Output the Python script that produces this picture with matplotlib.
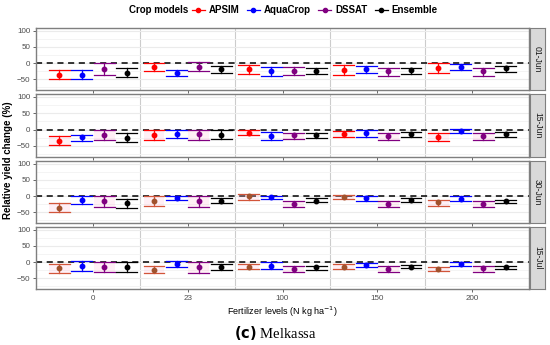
import numpy as np
import matplotlib.pyplot as plt
from matplotlib.lines import Line2D
from matplotlib.patches import Rectangle

plt.rcParams['font.family'] = ['Liberation Sans', 'DejaVu Sans']

dates = ['01-Jun', '15-Jun', '30-Jun', '15-Jul']
fert_levels = ['0', '23', '100', '150', '200']
models = ['APSIM', 'AquaCrop', 'DSSAT', 'Ensemble']

# mean / upper / lower, indexed [date][fertilizer][model]
mean = [
    [[-36, -36, -19, -30], [-13, -31, -12, -19], [-19, -25, -24, -24], [-21, -18, -25, -23], [-15, -12, -25, -17]],
    [[-35, -24, -18, -26], [-18, -15, -15, -16], [-9, -20, -18, -17], [-14, -12, -19, -15], [-22, -4, -19, -15]],
    [[-38, -12, -17, -23], [-17, -5, -17, -15], [-1, -4, -24, -14], [-4, -6, -24, -13], [-20, -8, -24, -17]],
    [[-19, -13, -15, -15], [-24, -5, -17, -15], [-15, -13, -21, -17], [-14, -10, -21, -15], [-21, -7, -20, -17]],
]
upper = [
    [[-23, -21, -1, -17], [0, -21, 2, -9], [-6, -13, -13, -14], [-6, -8, -17, -15], [1, -3, -15, -9]],
    [[-19, -16, -2, -12], [-2, -2, -2, -2], [-2, -8, -10, -10], [-5, -2, -10, -6], [-12, 1, -10, -8]],
    [[-22, 0, 0, -9], [0, 1, 0, -6], [6, 0, -16, -7], [3, 1, -16, -6], [-12, -1, -16, -12]],
    [[-6, 2, 0, 0], [-13, 4, -1, -6], [-7, -1, -13, -11], [-7, -4, -12, -10], [-14, -1, -11, -11]],
]
lower = [
    [[-50, -50, -36, -44], [-25, -40, -25, -31], [-34, -41, -36, -35], [-36, -31, -40, -33], [-30, -22, -39, -28]],
    [[-48, -35, -33, -39], [-33, -26, -31, -28], [-16, -33, -30, -25], [-22, -22, -33, -24], [-34, -9, -33, -24]],
    [[-50, -25, -33, -36], [-31, -11, -35, -22], [-12, -9, -35, -20], [-10, -15, -35, -20], [-30, -14, -33, -23]],
    [[-34, -27, -31, -31], [-34, -15, -34, -24], [-23, -21, -31, -24], [-22, -17, -31, -20], [-28, -13, -31, -23]],
]

colors = ['#ff0000', '#0000ff', '#800080', '#000000']
apsim_late = '#a0522d'

fig = plt.figure(figsize=(5.5, 3.45), dpi=100)
W, H = 550, 345
left, right = 36, 529
tops = [28, 94, 161, 227]
bots = [90, 157, 223, 289]
offsets = np.array([-0.355, -0.118, 0.118, 0.355])
capw = 0.22

for r, date in enumerate(dates):
    ax = fig.add_axes([left / W, 1 - bots[r] / H, (right - left) / W, (bots[r] - tops[r]) / H])
    ax.set_xlim(0.4, 5.6)
    ax.set_ylim(-84, 109)
    ax.set_yticks([-50, 0, 50, 100])
    ax.set_yticks([-75, -25, 25, 75], minor=True)
    ax.grid(True, which='major', axis='y', color='#ebebeb', lw=0.8)
    ax.grid(True, which='minor', axis='y', color='#f3f3f3', lw=0.6)
    for b in [1.5, 2.5, 3.5, 4.5]:
        ax.axvline(b, color='#cccccc', lw=0.8, zorder=1)
    ax.axhline(0, color='black', ls=(0, (4, 3)), lw=1.1, zorder=2)
    for f in range(len(fert_levels)):
        for m in range(len(models)):
            xc = f + 1 + offsets[m]
            c = colors[m]
            pc = c
            if m == 0 and r >= 2:
                c = '#d2553a'
                pc = apsim_late
            lo, hi, mu = lower[r][f][m], upper[r][f][m], mean[r][f][m]
            if r >= 1 and m in (0, 2):
                ax.add_patch(Rectangle((xc - capw / 2, lo), capw, hi - lo,
                                       facecolor='#ffc0d8', alpha=0.25, lw=0, zorder=2))
            ax.plot([xc, xc], [lo, hi], color=c, lw=0.9, zorder=3)
            ax.plot([xc - capw / 2, xc + capw / 2], [hi, hi], color=c, lw=0.9, zorder=3)
            ax.plot([xc - capw / 2, xc + capw / 2], [lo, lo], color=c, lw=0.9, zorder=3)
            ax.plot(xc, mu, 'o', color=pc, ms=3.2, zorder=4)
    ax.set_xticks(range(1, 6))
    if r == 3:
        ax.set_xticklabels(fert_levels)
    else:
        ax.set_xticklabels([])
        ax.tick_params(axis='x', length=0)
    ax.tick_params(axis='both', labelsize=5.8, colors='#4d4d4d', length=2, width=0.6, pad=2)
    ax.tick_params(which='minor', length=0)
    for s in ax.spines.values():
        s.set_color('#7f7f7f')
        s.set_linewidth(1.0)
    # strip
    sax = fig.add_axes([(right + 1) / W, 1 - bots[r] / H, 15 / W, (bots[r] - tops[r]) / H])
    sax.set_facecolor('#d9d9d9')
    sax.set_xticks([])
    sax.set_yticks([])
    for s in sax.spines.values():
        s.set_color('#7f7f7f')
        s.set_linewidth(0.8)
    sax.text(0.5, 0.5, date, rotation=-90, ha='center', va='center', fontsize=6.2,
             color='#1a1a1a', transform=sax.transAxes)

fig.text(8 / W, 1 - 160 / H, 'Relative yield change (%)', rotation=90, ha='center', va='center',
         fontsize=7, fontweight='bold')
fig.text(282 / W, 1 - 312 / H, 'Fertilizer levels (N kg ha$^{-1}$)', ha='center', va='center',
         fontsize=6.5)
fig.text(275 / W, 1 - 333 / H, r'$\mathbf{(c)}$ Melkassa', ha='center', va='center',
         fontsize=10.5, family='Liberation Serif')

fig.text(129 / W, 1 - 10 / H, 'Crop models', ha='left', va='center', fontsize=7, fontweight='bold')
handles = [Line2D([0], [0], color=colors[i], marker='o', ms=3, lw=0.9) for i in range(4)]
leg = fig.legend(handles, models, loc='center left', bbox_to_anchor=(192 / W, 1 - 10 / H),
                 ncol=4, frameon=False, handlelength=1.3, handletextpad=0.4, columnspacing=0.8,
                 prop={'size': 7, 'weight': 'bold'}, borderaxespad=0, borderpad=0)

fig.savefig('out.png', dpi=100)
